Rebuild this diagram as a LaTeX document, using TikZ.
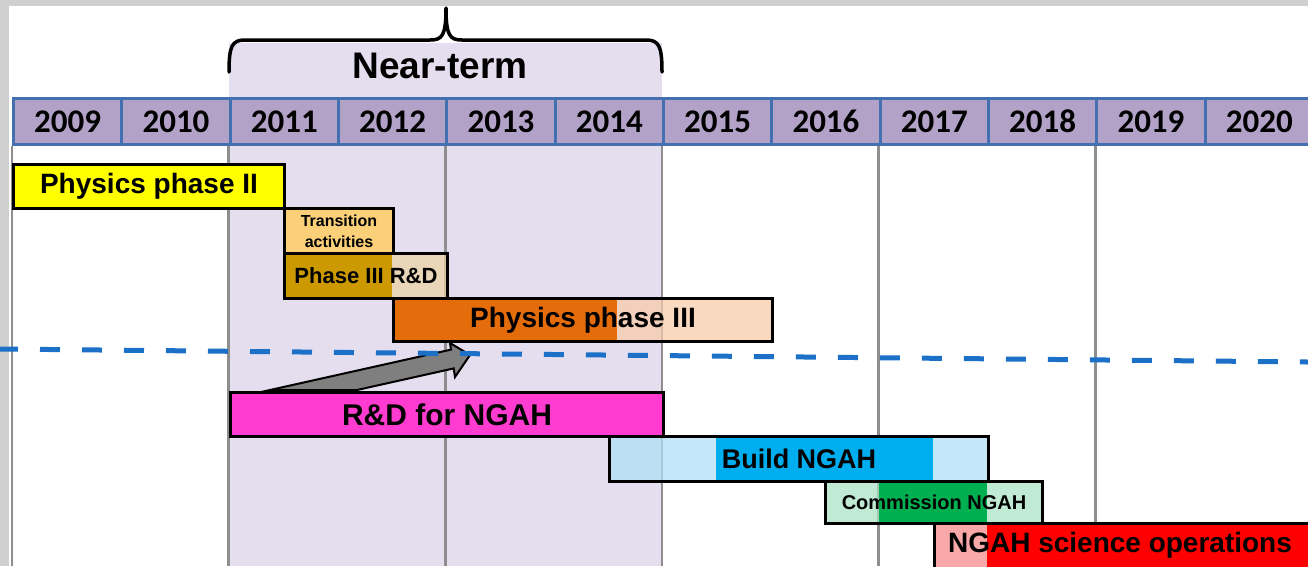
\documentclass[tikz,border=0pt]{standalone}
\usepackage{fontspec}
\newfontfamily\carlito{Carlito}
\newfontfamily\lsans{Liberation Sans}
\newcommand\barfnt[1]{\lsans\bfseries\fontsize{#1}{#1}\selectfont}
\definecolor{margingrey}{HTML}{CFCFCF}
\definecolor{headfill}{HTML}{B3A2C7}
\definecolor{headline}{HTML}{4270B0}
\definecolor{shadec}{HTML}{E4DEEE}
\definecolor{gridgrey}{HTML}{8E8E8E}
\definecolor{yellowc}{HTML}{FFFF00}
\definecolor{transc}{HTML}{FBD079}
\definecolor{goldd}{HTML}{CC9A00}
\definecolor{goldl}{HTML}{EBD3A4}
\definecolor{orangec}{HTML}{E46C0A}
\definecolor{peachc}{HTML}{F8CBA8}
\definecolor{magentac}{HTML}{FF3CCF}
\definecolor{bluel}{HTML}{AEE0F5}
\definecolor{blued}{HTML}{00AEEF}
\definecolor{greenl}{HTML}{A9E2C4}
\definecolor{greend}{HTML}{00B050}
\definecolor{pinkc}{HTML}{F8A8A8}
\definecolor{redc}{HTML}{FF0000}
\definecolor{dashblue}{HTML}{1C70C8}
\definecolor{arrowgrey}{HTML}{7F7F7F}
\tikzset{
  yearcell/.style={draw=headline, fill=headfill, line width=3pt, minimum width=108.33pt,
    minimum height=46pt, inner sep=0pt, anchor=north west, text height=21pt, text depth=0pt,
    font=\carlito\bfseries\fontsize{33}{33}\selectfont},
  barframe/.style={draw=black, line width=3pt, inner sep=0pt, anchor=north west},
  gridline/.style={draw=gridgrey, line width=2.5pt},
  lightpart/.style={fill opacity=0.72},
  bracestyle/.style={draw=black, line width=3.5pt, line cap=round, line join=round},
  milestone/.style={draw=dashblue, line width=5pt, line cap=butt, dash pattern=on 20pt off 22pt, dash phase=2pt},
  fatarrow/.style={draw=black, fill=arrowgrey, line width=2pt, line join=miter}
}
\begin{document}
\begin{tikzpicture}[x=1pt,y=-1pt]
\clip (0,0) rectangle (1308,566);
\fill[white] (0,0) rectangle (1308,566);
\fill[margingrey] (0,0) rectangle (1308,6);
\fill[margingrey] (0,0) rectangle (9,566);
% near-term shading
\fill[shadec] (229,43) rectangle (662,566);
% brace
\draw[bracestyle] (229,72) .. controls (229,46) and (232,40) .. (245,40) -- (430,40)
  .. controls (442,40) and (446,36) .. (446,8)
  .. controls (446,36) and (450,40) .. (462,40) -- (646,40)
  .. controls (659,40) and (662,46) .. (662,72);
\node[font=\barfnt{37}] (near) at (440,66) {Near-term};
% year header
\foreach \yr [count=\i from 0] in {2009,2010,2011,2012,2013,2014,2015,2016,2017,2018,2019,2020}
  \node[yearcell] (y\yr) at ({12+108.33*\i},97) {\yr};
% grid lines
\foreach \yr in {2009,2011,2013,2015,2017,2019}
  \draw[gridline] (y\yr.south west) -- (y\yr.south west |- 0,566);
% Physics phase II
\fill[yellowc] (12,163) rectangle (283,207);
\node[barframe, minimum width=271pt, minimum height=44pt, font=\barfnt{28}] (ph2) at (12,163) {Physics phase II};
% Transition activities
\fill[transc] (283,207) rectangle (392,252);
\node[barframe, minimum width=109pt, minimum height=45pt, align=center, font=\lsans\bfseries\fontsize{16}{21}\selectfont] (trans) at (283,207) {Transition\\activities};
% Phase III R&D
\fill[goldd] (283,252) rectangle (392,297);
\fill[goldl, lightpart] (392,252) rectangle (446,297);
\node[barframe, minimum width=163pt, minimum height=45pt, font=\barfnt{22}] (rd3) at (283,252) {Phase III R\&D};
% Physics phase III
\fill[orangec] (392,297) rectangle (617,340);
\fill[peachc, lightpart] (617,297) rectangle (771,340);
\node[barframe, minimum width=379pt, minimum height=43pt, font=\barfnt{28}] (ph3) at (392,297) {Physics phase III};
% arrow
\draw[fatarrow] (270,390) -- (451,349.6) -- (450,343) -- (470,355) -- (455,377) -- (453.7,368.4) -- (357,390) -- cycle;
% R&D for NGAH
\fill[magentac] (229,391) rectangle (662,435);
\node[barframe, minimum width=433pt, minimum height=44pt, font=\barfnt{30}] (rdn) at (229,391) {R\&D for NGAH};
% Build NGAH
\fill[bluel, lightpart] (608,435) rectangle (716,480);
\fill[blued] (716,435) rectangle (933,480);
\fill[bluel, lightpart] (933,435) rectangle (987,480);
\node[barframe, minimum width=379pt, minimum height=45pt, font=\barfnt{27}] (build) at (608,435) {Build NGAH};
% Commission NGAH
\fill[greenl, lightpart] (824,480) rectangle (879,522);
\fill[greend] (879,480) rectangle (987,522);
\fill[greenl, lightpart] (987,480) rectangle (1041,522);
\node[barframe, minimum width=217pt, minimum height=42pt, font=\barfnt{20}] (comm) at (824,480) {Commission NGAH};
% NGAH science operations
\fill[pinkc] (933,522) rectangle (987,570);
\fill[redc] (987,522) rectangle (1312,570);
\node[barframe, minimum width=379pt, minimum height=48pt, font=\barfnt{28}] (sci) at (933,522) {};
\node[font=\barfnt{28}] (scitext) at (1120,545) {NGAH science operations};
% milestone dashed line
\draw[milestone] (0,349) -- (1308,362);
\end{tikzpicture}
\end{document}
